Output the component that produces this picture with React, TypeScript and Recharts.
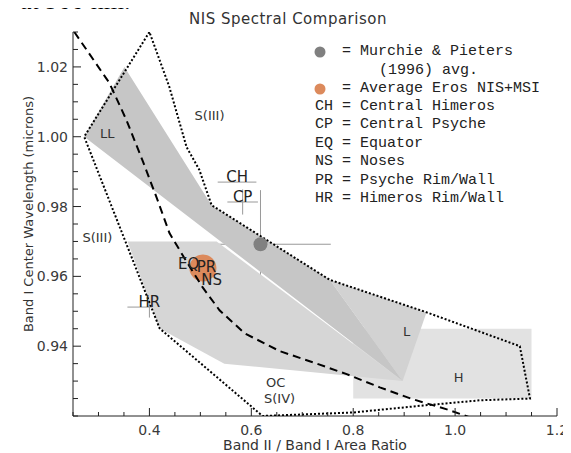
import React from "react";
import { ScatterChart, Scatter, XAxis, YAxis, ErrorBar, Polygon } from "recharts";

// axis ticks
const xTicks = [0.25, 0.3, 0.35, 0.4, 0.45, 0.5, 0.55, 0.6, 0.65, 0.7, 0.75, 0.8, 0.85, 0.9, 0.95, 1.0, 1.05, 1.1, 1.15, 1.2];
const xMajorTicks = [0.4, 0.6, 0.8, 1.0, 1.2];
const xTickLabels = ["0.4", "0.6", "0.8", "1.0", "1.2"];
const yTicks = [0.92, 0.925, 0.93, 0.935, 0.94, 0.945, 0.95, 0.955, 0.96, 0.965, 0.97, 0.975, 0.98, 0.985, 0.99, 0.995, 1.0, 1.005, 1.01, 1.015, 1.02, 1.025, 1.03];
const yMajorTicks = [0.94, 0.96, 0.98, 1.0, 1.02];
const yTickLabels = ["0.94", "0.96", "0.98", "1.00", "1.02"];

// shaded fields
const hRegion = [
  { x: 0.8, y: 0.945 }, { x: 1.15, y: 0.945 }, { x: 1.15, y: 0.925 }, { x: 0.8, y: 0.925 },
];
const ocRegion = [
  { x: 0.357, y: 0.97 }, { x: 0.532, y: 0.97 }, { x: 0.897, y: 0.93 }, { x: 0.547, y: 0.935 }, { x: 0.42, y: 0.9451 },
];
const lRegion = [
  { x: 0.754, y: 0.959 }, { x: 0.944, y: 0.9497 }, { x: 0.897, y: 0.93 },
];
const llRegion = [
  { x: 0.272, y: 1.0 }, { x: 0.351, y: 1.02 }, { x: 0.522, y: 0.9804 }, { x: 0.754, y: 0.959 }, { x: 0.897, y: 0.93 },
];

// dotted S-type boundary
const sBoundary = [
  { x: 0.4, y: 1.03 }, { x: 0.272, y: 1.0 }, { x: 0.42, y: 0.9451 }, { x: 0.622, y: 0.92 },
  { x: 0.799, y: 0.921 }, { x: 0.937, y: 0.923 }, { x: 1.049, y: 0.9245 }, { x: 1.147, y: 0.925 },
  { x: 1.127, y: 0.94 }, { x: 0.944, y: 0.9497 }, { x: 0.754, y: 0.959 }, { x: 0.522, y: 0.9804 },
  { x: 0.498, y: 0.9905 }, { x: 0.473, y: 0.997 }, { x: 0.439, y: 1.0143 },
];

// dashed curve
const dashedCurve = [
  { x: 0.2526, y: 1.03 }, { x: 0.3214, y: 1.0154 }, { x: 0.3548, y: 1.0048 }, { x: 0.3862, y: 0.9933 },
  { x: 0.4138, y: 0.9827 }, { x: 0.4393, y: 0.9724 }, { x: 0.4688, y: 0.9652 }, { x: 0.5042, y: 0.9569 },
  { x: 0.5376, y: 0.9503 }, { x: 0.5867, y: 0.9437 }, { x: 0.6555, y: 0.9386 }, { x: 0.7204, y: 0.9354 },
  { x: 0.7872, y: 0.932 }, { x: 0.8521, y: 0.9282 }, { x: 0.917, y: 0.9248 }, { x: 0.9838, y: 0.9219 },
  { x: 1.029, y: 0.9196 },
];

// measured points
const murchiePoint = [{ x: 0.618, y: 0.9692, ex: 0.138, ey: 0.0155 }];
const erosPoint = [{ x: 0.505, y: 0.9624 }];
const unitPoints = [
  { name: "CH", x: 0.572, y: 0.987, ex: 0.038, ey: 0 },
  { name: "CP", x: 0.583, y: 0.9813, ex: 0.03, ey: 0.0036 },
  { name: "EQ", x: 0.477, y: 0.9621, ex: 0, ey: 0.0077 },
  { name: "PR", x: 0.512, y: 0.9612, ex: 0.01, ey: 0.002 },
  { name: "NS", x: 0.522, y: 0.9575, ex: 0.0265, ey: 0.0077 },
  { name: "HR", x: 0.4, y: 0.9512, ex: 0.0432, ey: 0.003 },
];

const regionLabels = [
  { name: "LL", x: 0.3174, y: 1.0011 },
  { name: "S(III)", x: 0.518, y: 1.0062 },
  { name: "S(III)", x: 0.2978, y: 0.9712 },
  { name: "L", x: 0.905, y: 0.9443 },
  { name: "H", x: 1.007, y: 0.9311 },
  { name: "OC", x: 0.6477, y: 0.9297 },
  { name: "S(IV)", x: 0.6555, y: 0.925 },
];

const legendRows = [
  "CH = Central Himeros",
  "CP = Central Psyche",
  "EQ = Equator",
  "NS = Noses",
  "PR = Psyche Rim/Wall",
  "HR = Himeros Rim/Wall",
];

const FONT = '"DejaVu Sans", sans-serif';
const MONO = '"Liberation Mono", monospace';
const AXIS = "#222";
const GRAY_DOT = "#808080";
const ORANGE = "#dc8a5c";

const near = (a: number, b: number) => Math.abs(a - b) < 1e-6;
const majorIdx = (list: number[], v: number) => list.findIndex((m) => near(m, v));

const noDot = () => <g />;
const filled = (fill: string) => (p: any) => <Polygon points={p.points} fill={fill} stroke="none" />;

function BottomTick({ x, y, payload }: any) {
  const i = majorIdx(xMajorTicks, payload.value);
  return (
    <g>
      <line x1={x} y1={y} x2={x} y2={y - (i >= 0 ? 8 : 4)} stroke={AXIS} />
      {i >= 0 && (
        <text x={x} y={y + 19} textAnchor="middle" fontSize={14} fill="#3a3a3a" fontFamily={FONT}>
          {xTickLabels[i]}
        </text>
      )}
    </g>
  );
}

function TopTick({ x, y, payload }: any) {
  const i = majorIdx(xMajorTicks, payload.value);
  return <line x1={x} y1={y} x2={x} y2={y + (i >= 0 ? 8 : 4)} stroke={AXIS} />;
}

function LeftTick({ x, y, payload }: any) {
  const i = majorIdx(yMajorTicks, payload.value);
  return (
    <g>
      <line x1={x} y1={y} x2={x + (i >= 0 ? 8 : 5)} y2={y} stroke={AXIS} />
      {i >= 0 && (
        <text x={x - 5} y={y} dy="0.36em" textAnchor="end" fontSize={14} fill="#3a3a3a" fontFamily={FONT}>
          {yTickLabels[i]}
        </text>
      )}
    </g>
  );
}

function RightTick({ x, y, payload }: any) {
  const i = majorIdx(yMajorTicks, payload.value);
  return <line x1={x} y1={y} x2={x - (i >= 0 ? 8 : 5)} y2={y} stroke={AXIS} />;
}

const unitLabel = (p: any) => (
  <text x={p.cx} y={p.cy} textAnchor="middle" fontSize={15} fill="#222" fontFamily={FONT}>
    {p.payload.name}
  </text>
);

const regionLabel = (p: any) => (
  <text x={p.cx} y={p.cy} dy="0.36em" textAnchor="middle" fontSize={13} fill="#333" fontFamily={FONT}>
    {p.payload.name}
  </text>
);

export default function App() {
  return (
    <div style={{ position: "relative", width: 563, height: 445 }}>
      <div
        style={{
          position: "absolute", left: 80, width: 400, top: 2, textAlign: "center", fontFamily: FONT,
          fontSize: 15, lineHeight: "18px", letterSpacing: 0.5, color: "#333",
        }}
      >
        NIS Spectral Comparison
      </div>

      <ScatterChart width={563} height={445} margin={{ top: 24, right: 14, bottom: 0, left: 0 }}>
        <XAxis
          type="number" dataKey="x" domain={[0.25, 1.2]} allowDataOverflow ticks={xTicks} interval={0}
          height={37} tickSize={0} tickMargin={0} tick={BottomTick} axisLine={{ stroke: AXIS }} tickLine={false}
        />
        <XAxis
          xAxisId="top" orientation="top" type="number" domain={[0.25, 1.2]} allowDataOverflow ticks={xTicks}
          interval={0} height={0} tickSize={0} tickMargin={0} tick={TopTick} axisLine={{ stroke: AXIS }} tickLine={false}
        />
        <YAxis
          type="number" dataKey="y" domain={[0.92, 1.03]} allowDataOverflow ticks={yTicks} interval={0}
          width={65} tickSize={0} tickMargin={0} tick={LeftTick} axisLine={{ stroke: AXIS }} tickLine={false}
        />
        <YAxis
          yAxisId="right" orientation="right" type="number" domain={[0.92, 1.03]} allowDataOverflow ticks={yTicks}
          interval={0} width={0} tickSize={0} tickMargin={0} tick={RightTick} axisLine={{ stroke: AXIS }} tickLine={false}
        />

        <Scatter data={hRegion} isAnimationActive={false} shape={noDot} line={filled("#e2e2e2")} />
        <Scatter data={ocRegion} isAnimationActive={false} shape={noDot} line={filled("#d6d6d6")} />
        <Scatter data={lRegion} isAnimationActive={false} shape={noDot} line={filled("#d2d2d2")} />
        <Scatter data={llRegion} isAnimationActive={false} shape={noDot} line={filled("#c6c6c6")} />

        <Scatter data={unitPoints} isAnimationActive={false} shape={noDot}>
          <ErrorBar dataKey="ex" direction="x" width={0} stroke="#999" strokeWidth={1} />
          <ErrorBar dataKey="ey" direction="y" width={0} stroke="#999" strokeWidth={1} />
        </Scatter>
        <Scatter data={murchiePoint} isAnimationActive={false} shape={noDot}>
          <ErrorBar dataKey="ex" direction="x" width={0} stroke="#999" strokeWidth={1} />
          <ErrorBar dataKey="ey" direction="y" width={0} stroke="#999" strokeWidth={1} />
        </Scatter>
        <Scatter
          data={erosPoint} isAnimationActive={false}
          shape={(p: any) => <circle cx={p.cx} cy={p.cy} r={13.5} fill={ORANGE} />}
        />

        <Scatter
          data={sBoundary} isAnimationActive={false} shape={noDot}
          line={(p: any) => (
            <Polygon points={p.points} fill="none" stroke="#000" strokeWidth={2} strokeDasharray="2 2" />
          )}
        />
        <Scatter
          data={dashedCurve} isAnimationActive={false} shape={noDot} lineJointType="linear"
          line={{ stroke: "#000", strokeWidth: 2, strokeDasharray: "8 5" }}
        />

        <Scatter
          data={murchiePoint} isAnimationActive={false}
          shape={(p: any) => <circle cx={p.cx} cy={p.cy} r={7} fill={GRAY_DOT} />}
        />
        <Scatter data={unitPoints} isAnimationActive={false} shape={unitLabel} />
        <Scatter data={regionLabels} isAnimationActive={false} shape={regionLabel} />
      </ScatterChart>

      <svg
        style={{ position: "absolute", left: 0, top: 0, overflow: "visible" }}
        width={563} height={445} pointerEvents="none"
      >
        {/* bottom edge of the cropped caption above the figure */}
        <text x={12} y={1} fontFamily='"Liberation Serif", serif' fontSize={26} fill="#000">
          at 900 nm.
        </text>
        <circle cx={312} cy={44} r={5.5} fill={GRAY_DOT} />
        <circle cx={312} cy={81} r={5.5} fill={ORANGE} />
      </svg>
      <div style={{ position: "absolute", left: 0, top: 0, fontFamily: MONO, fontSize: 15, lineHeight: "18px", whiteSpace: "pre", color: "#222" }}>
        <div style={{ position: "absolute", left: 334, top: 35 }}>= Murchie &amp; Pieters</div>
        <div style={{ position: "absolute", left: 371, top: 54 }}>(1996) avg.</div>
        <div style={{ position: "absolute", left: 334, top: 72 }}>= Average Eros NIS+MSI</div>
        {legendRows.map((row, i) => (
          <div key={row} style={{ position: "absolute", left: 307, top: 90 + i * 18.4 }}>
            {row}
          </div>
        ))}
      </div>

      <div
        style={{
          position: "absolute", left: 107, width: 400, top: 429, textAlign: "center", fontFamily: FONT,
          fontSize: 14, lineHeight: "16px", color: "#333",
        }}
      >
        Band II / Band I Area Ratio
      </div>
      <div
        style={{
          position: "absolute", left: -129, width: 300, top: 198, height: 16, textAlign: "center",
          fontFamily: FONT, fontSize: 13, lineHeight: "16px", color: "#333", transform: "rotate(-90deg)",
        }}
      >
        Band I Center Wavelength (microns)
      </div>
    </div>
  );
}
